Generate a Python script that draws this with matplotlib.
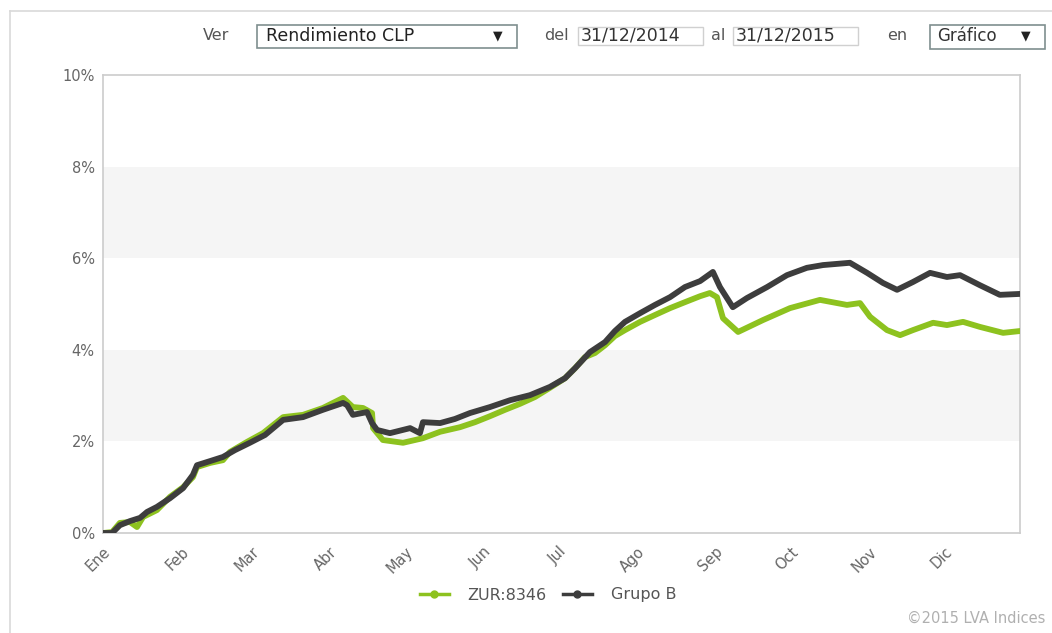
import matplotlib.pyplot as plt
from matplotlib.lines import Line2D
from matplotlib.patches import Rectangle

# Data (day of year 2015, accumulated return in %)
zur_days = [0, 3.6, 6.7, 10.7, 13.5, 15.9, 21.4, 26.6, 31.8, 35.7, 37.3, 42.5, 47.6, 50.4,
            57.2, 63.5, 71.5, 79.4, 87.3, 95.3, 99.2, 103.2, 106.8, 107.2, 111.1, 119.1,
            127.0, 133.8, 141.7, 147.7, 153.6, 159.6, 165.5, 171.5, 177.4, 183.4, 187.4,
            191.3, 195.3, 199.3, 203.2, 207.2, 213.2, 219.1, 225.1, 231.0, 237.0, 240.9,
            243.7, 246.1, 252.1, 262.0, 272.7, 284.6, 295.3, 300.5, 304.5, 311.2, 316.4,
            321.5, 329.5, 335.0, 341.4, 348.1, 357.3, 364]
zur_vals = [0.00, 0.02, 0.22, 0.24, 0.13, 0.35, 0.50, 0.79, 1.00, 1.22, 1.44, 1.53, 1.59, 1.77,
            1.99, 2.18, 2.53, 2.58, 2.73, 2.95, 2.75, 2.73, 2.62, 2.29, 2.03, 1.97,
            2.07, 2.21, 2.31, 2.42, 2.55, 2.69, 2.82, 2.97, 3.17, 3.38, 3.60,
            3.84, 3.93, 4.10, 4.30, 4.43, 4.61, 4.76, 4.91, 5.04, 5.17, 5.24,
            5.15, 4.69, 4.39, 4.65, 4.91, 5.09, 4.98, 5.02, 4.72, 4.43, 4.32,
            4.43, 4.59, 4.54, 4.61, 4.50, 4.37, 4.41]

grupo_days = [0, 3.6, 6.7, 10.7, 14.7, 17.5, 21.4, 26.6, 31.8, 35.7, 37.3, 42.5, 47.6, 52.4,
              58.3, 64.3, 71.5, 79.4, 87.3, 95.3, 96.9, 99.2, 104.8, 106.8, 108.8, 113.9,
              121.9, 125.8, 127.0, 133.8, 139.7, 145.7, 153.6, 161.6, 169.5, 177.4, 183.4,
              187.4, 193.3, 199.3, 203.2, 207.2, 213.2, 219.1, 225.1, 231.0, 237.0, 242.1,
              244.9, 250.0, 255.6, 263.6, 271.5, 279.4, 285.8, 296.5, 303.3, 309.6, 315.2,
              321.5, 328.3, 335.0, 340.2, 348.1, 356.0, 364]
grupo_vals = [0.00, 0.00, 0.17, 0.26, 0.33, 0.46, 0.57, 0.76, 0.98, 1.27, 1.48, 1.57, 1.66, 1.81,
              1.97, 2.14, 2.47, 2.53, 2.69, 2.84, 2.79, 2.58, 2.64, 2.40, 2.25, 2.18,
              2.29, 2.18, 2.42, 2.40, 2.49, 2.62, 2.75, 2.90, 3.01, 3.19, 3.38,
              3.60, 3.95, 4.17, 4.41, 4.61, 4.80, 4.98, 5.15, 5.37, 5.50, 5.70,
              5.37, 4.93, 5.13, 5.37, 5.63, 5.79, 5.85, 5.90, 5.68, 5.46, 5.31,
              5.48, 5.68, 5.59, 5.63, 5.41, 5.20, 5.22]

month_labels = ['Ene', 'Feb', 'Mar', 'Abr', 'May', 'Jun', 'Jul', 'Ago', 'Sep', 'Oct', 'Nov', 'Dic']
month_starts = [0, 31, 59, 90, 120, 151, 181, 212, 243, 273, 304, 334]
y_ticks = [0, 2, 4, 6, 8, 10]

GREEN = '#8dc21f'
DARK = '#3d3d3d'
TXT = '#666666'
BORDER = '#cccccc'

fig = plt.figure(figsize=(10.52, 6.33), dpi=100)
W, H = 1052, 633

def fx(px):
    return px / W

def fy(py):
    return 1 - py / H

# outer frame of the widget
fig.add_artist(Line2D([fx(10), fx(10)], [fy(11), 0], color='#d9d9d9', lw=1.2))
fig.add_artist(Line2D([fx(10), 1], [fy(11), fy(11)], color='#d9d9d9', lw=1.2))

ax = fig.add_axes([fx(103), fy(533), fx(1020) - fx(103), fy(75) - fy(533)])
ax.set_xlim(0, 364)
ax.set_ylim(0, 10)

# alternating bands
for lo in (2, 6):
    ax.axhspan(lo, lo + 2, color='#f5f5f5', zorder=0, lw=0)

ax.plot(zur_days, zur_vals, color=GREEN, lw=4.2, solid_capstyle='round',
        solid_joinstyle='round', zorder=3)
ax.plot(grupo_days, grupo_vals, color=DARK, lw=4.2, solid_capstyle='round',
        solid_joinstyle='round', zorder=4)

for s in ax.spines.values():
    s.set_color(BORDER)
    s.set_linewidth(1.2)

ax.set_yticks(y_ticks)
ax.set_yticklabels([f'{v}%' for v in y_ticks], color=TXT, fontsize=10.5)
ax.set_xticks(month_starts)
ax.set_xticklabels(month_labels, rotation=45, ha='right', rotation_mode='anchor',
                   color=TXT, fontsize=10.5)
ax.tick_params(axis='both', length=0, pad=6)
ax.tick_params(axis='x', pad=8)

# controls bar on top
yc = fy(36)
fig.text(fx(203), yc, 'Ver', color='#555555', fontsize=11.5, va='center')
fig.add_artist(Rectangle((fx(257), fy(48)), fx(517) - fx(257), fy(25) - fy(48),
                         fill=False, ec='#7f8f8f', lw=1.2))
fig.text(fx(266), yc, 'Rendimiento CLP', color='#222222', fontsize=12.5, va='center')
fig.text(fx(493), yc, '\u25bc', color='#222222', fontsize=9, va='center')
fig.text(fx(544), yc, 'del', color='#555555', fontsize=11.5, va='center')
fig.add_artist(Rectangle((fx(578), fy(45)), fx(703) - fx(578), fy(27) - fy(45),
                         fill=False, ec='#d0d0d0', lw=1))
fig.text(fx(581), yc, '31/12/2014', color='#333333', fontsize=12.5, va='center')
fig.text(fx(711), yc, 'al', color='#555555', fontsize=11.5, va='center')
fig.add_artist(Rectangle((fx(733), fy(45)), fx(858) - fx(733), fy(27) - fy(45),
                         fill=False, ec='#d0d0d0', lw=1))
fig.text(fx(736), yc, '31/12/2015', color='#333333', fontsize=12.5, va='center')
fig.text(fx(887), yc, 'en', color='#555555', fontsize=11.5, va='center')
fig.add_artist(Rectangle((fx(930), fy(49)), fx(1045) - fx(930), fy(25) - fy(49),
                         fill=False, ec='#7f8f8f', lw=1.2))
fig.text(fx(937), yc, 'Gráfico', color='#333333', fontsize=12, va='center')
fig.text(fx(1021), yc, '\u25bc', color='#222222', fontsize=9, va='center')

# legend
handles = [Line2D([], [], color=GREEN, lw=2.5, marker='o', markersize=5),
           Line2D([], [], color=DARK, lw=2.5, marker='o', markersize=5)]
fig.legend(handles, ['ZUR:8346', 'Grupo B'], loc='center', ncol=2, frameon=False,
           bbox_to_anchor=(fx(548), fy(595)), fontsize=11.5, labelcolor='#555555',
           handlelength=1.8, columnspacing=1.0, handletextpad=1.2)

fig.text(fx(1045), fy(618), '\u00a92015 LVA Indices', color='#b0b0b0', fontsize=10.5,
         ha='right', va='center')

fig.savefig('out.png', dpi=100)
